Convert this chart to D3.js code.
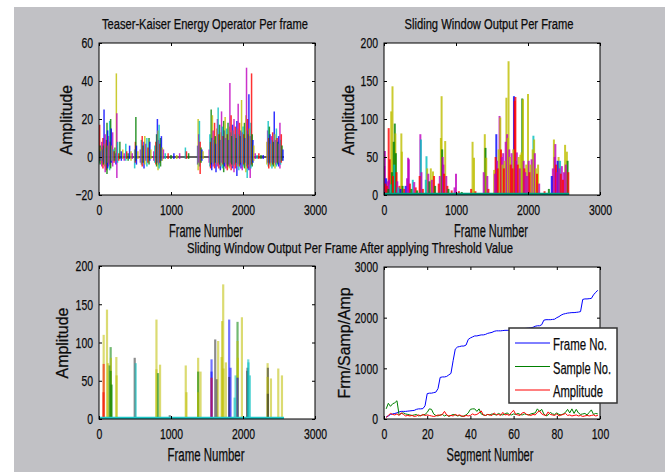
<!DOCTYPE html>
<html>
<head>
<meta charset="utf-8">
<script src="https://cdn.jsdelivr.net/npm/d3@7"></script>
<style>
  body { margin: 0; background: #ffffff; }
  text { font-family: "Liberation Sans", Arial, sans-serif; fill: #0a0a0a; stroke: #0a0a0a; stroke-width: 0.25px; }
</style>
</head>
<body>
<script>
// MATLAB default line colour order: b, g, r, c, m, y, k
var palette = ["#0000ff", "#008000", "#ff0000", "#00bfbf", "#bf00bf", "#bfbf00", "#303030"];

// ---- subplot 1: Teager-Kaiser energy per frame (spike top / bottom) ----
var tkFrame = [5, 9, 15, 22, 30, 38, 45, 55, 62, 70, 78, 86, 95, 104, 111, 120, 128, 136, 148, 155, 162, 170, 180, 190, 198, 210, 222, 235, 241, 248, 258,
    275, 290, 310, 330, 350, 372, 385, 405, 425, 445, 462,
    495, 505, 512, 520, 540, 575, 588, 600, 612, 625, 636, 650, 665, 680, 695, 706, 720,
    760, 775, 790, 800, 811, 820, 828, 835, 845, 855, 867, 880, 895,
    920, 960, 1000, 1040, 1080, 1120, 1200, 1215, 1245,
    1370, 1377, 1385, 1395, 1405, 1418, 1430, 1445,
    1530, 1540, 1550, 1558, 1566, 1575, 1585, 1595, 1605, 1615, 1625, 1635, 1645, 1655, 1665, 1675, 1685, 1695, 1702, 1712, 1722, 1732, 1742, 1752, 1762,
    1772, 1782, 1792, 1802, 1810, 1818, 1826, 1835, 1845, 1855, 1865, 1875, 1885, 1895, 1905, 1915, 1925, 1933, 1942, 1952, 1962, 1972, 1980, 1990,
    2000, 2010, 2020, 2030, 2040, 2049, 2058, 2066, 2074, 2082, 2090, 2100, 2110, 2119, 2128, 2138, 2150,
    2170, 2195, 2220, 2250, 2280,
    2332, 2342, 2350, 2358, 2366, 2375, 2384, 2393, 2402, 2412, 2422, 2434, 2444, 2454, 2464, 2474, 2484, 2495, 2505, 2513, 2522, 2532, 2542, 2555];
var tkHigh = [4, 17, 6, 3, 5, 8, 4, 10, 6, 25, 7, 12, 5, 9, 18, 14, 6, 11, 19, 8, 20, 15, 6, 13, 4, 3, 5, 2, 44, 23, 8,
    2, 8, 3, 4, 2, 7, 3, 2, 6, 3, 2,
    4, 8, 21, 6, 3, 4, 9, 11, 6, 8, 11, 7, 10, 5, 10, 8, 4,
    3, 6, 8, 12, 20, 14, 9, 17, 7, 10, 11, 5, 4,
    2, 2, 1, 2, 1, 2, 5, 3, 2,
    6, 20, 12, 19, 8, 5, 4, 3,
    4, 12, 8, 25, 10, 22, 14, 9, 18, 11, 7, 15, 20, 26, 12, 17, 9, 13, 24, 16, 11, 19, 14, 21, 10,
    15, 12, 18, 9, 16, 39, 13, 22, 11, 17, 14, 20, 12, 16, 10, 19, 15, 28, 12, 18, 11, 14, 30, 13,
    16, 12, 18, 10, 22, 47, 14, 20, 12, 33, 15, 11, 18, 44, 12, 9, 6,
    2, 1, 2, 1, 1,
    8, 14, 19, 10, 16, 12, 7, 11, 9, 13, 8, 24, 12, 9, 15, 10, 8, 11, 7, 18, 9, 12, 6, 4];
var tkLow = [-3, -2, -4, -2, -3, -5, -2, -6, -4, -3, -5, -8, -4, -7, -9, -6, -3, -5, -7, -4, -6, -3, -2, -5, -2, -3, -2, -4, -2, -11, -3,
    -2, -1, -2, -1, -2, -2, -1, -2, -1, -2, -1,
    -6, -3, -2, -4, -1, -3, -4, -5, -3, -6, -4, -2, -5, -3, -4, -2, -1,
    -2, -3, -4, -5, -3, -7, -4, -6, -3, -5, -2, -2, -1,
    -1, -1, -1, -1, -1, -1, -1, -1, -1,
    -4, -7, -3, -5, -9, -3, -2, -1,
    -3, -5, -6, -4, -7, -3, -5, -4, -6, -3, -8, -4, -5, -3, -6, -4, -7, -5, -3, -6, -4, -8, -5, -3, -6,
    -4, -7, -5, -4, -6, -5, -3, -7, -4, -6, -5, -8, -4, -6, -3, -10, -5, -4, -7, -5, -4, -6, -3, -7,
    -5, -4, -6, -3, -8, -5, -11, -6, -4, -7, -5, -11, -6, -4, -5, -3, -2,
    -1, -1, -1, -1, -1,
    -4, -3, -5, -6, -3, -4, -5, -3, -6, -4, -5, -3, -6, -4, -5, -3, -4, -5, -3, -6, -4, -3, -2, -2];
var tkEnd = 2570;

// ---- subplot 2: sliding window output per frame ----
var swFrame = [5, 12, 20, 30, 40, 50, 60, 65, 70, 80, 90, 100, 110, 118, 125, 135, 142, 150, 158, 165, 175, 185, 200, 215, 230, 241, 248, 258,
    280, 300, 320, 335, 345, 360, 380, 400, 420, 440, 460,
    495, 505, 512, 520, 540, 580, 590, 600, 615, 630, 650, 665, 680, 695, 710,
    760, 775, 790, 800, 808, 815, 825, 835, 850, 865, 880, 895,
    940, 980, 1000, 1040, 1080, 1210, 1230, 1250, 1270,
    1385, 1400, 1410, 1420, 1435, 1450,
    1530, 1540, 1550, 1560, 1570, 1580, 1592, 1605, 1615, 1625, 1635, 1645, 1655, 1665, 1675, 1690, 1700, 1710, 1720, 1730, 1740, 1750, 1760,
    1772, 1785, 1795, 1805, 1815, 1825, 1835, 1845, 1858, 1870, 1885, 1895, 1910, 1920, 1930, 1940, 1950, 1962, 1975, 1985,
    2000, 2010, 2020, 2035, 2050, 2065, 2075, 2085, 2095, 2110, 2125, 2140, 2155, 2230, 2290,
    2330, 2345, 2360, 2370, 2380, 2390, 2400, 2412, 2425, 2435, 2445, 2455, 2470, 2485, 2500, 2515, 2525, 2540, 2550, 2560];
var swValue = [38, 58, 15, 22, 12, 18, 8, 88, 20, 47, 14, 110, 30, 143, 25, 70, 40, 94, 81, 55, 30, 18, 10, 12, 8, 81, 57, 12,
    8, 12, 22, 49, 47, 15, 8, 20, 17, 10, 6,
    25, 80, 73, 30, 8, 20, 51, 35, 28, 18, 35, 20, 31, 25, 12,
    15, 25, 75, 130, 60, 50, 40, 28, 71, 25, 12, 8,
    6, 10, 28, 5, 4, 8, 70, 49, 5,
    30, 80, 62, 49, 25, 8,
    33, 28, 50, 80, 45, 35, 60, 104, 102, 60, 50, 40, 55, 35, 45, 70, 128, 80, 75, 176, 60, 50, 40,
    55, 35, 60, 130, 124, 129, 45, 56, 40, 50, 35, 53, 56, 127, 126, 45, 35, 30, 40, 25,
    133, 45, 30, 40, 47, 60, 78, 73, 55, 35, 28, 40, 15, 5, 8,
    25, 35, 73, 50, 67, 40, 30, 45, 50, 35, 45, 28, 38, 20, 30, 66, 40, 57, 45, 30];
var swSeries = [4, 4, 2, 0, 2, 4, 1, 2, 4, 2, 3, 5, 1, 5, 2, 1, 3, 1, 5, 1, 2, 4, 3, 2, 0, 5, 5, 1,
    2, 0, 4, 4, 4, 2, 1, 3, 4, 2, 1,
    2, 4, 3, 4, 2, 3, 3, 5, 4, 1, 5, 4, 5, 2, 1,
    2, 4, 5, 5, 1, 4, 4, 2, 5, 4, 2, 1,
    2, 4, 4, 2, 1, 2, 5, 5, 2,
    4, 5, 1, 5, 4, 2,
    5, 4, 2, 0, 4, 2, 5, 4, 5, 2, 4, 5, 4, 2, 5, 4, 5, 4, 5, 5, 4, 5, 2,
    4, 2, 5, 0, 2, 2, 4, 4, 2, 5, 4, 5, 5, 1, 5, 4, 2, 4, 5, 4,
    5, 4, 2, 5, 4, 5, 3, 5, 4, 5, 2, 5, 4, 2, 1,
    0, 4, 5, 4, 4, 2, 4, 0, 5, 4, 3, 2, 4, 2, 4, 5, 4, 5, 1, 2];
var swEnd = 2570;

// ---- subplot 3: after applying threshold ----
var thFrame = [65, 65, 62, 111, 125, 148, 162, 165, 162, 176, 241, 245, 496, 510, 798, 798, 820, 848, 983, 1205, 1215, 1377, 1377, 1377, 1410,
    1563, 1563, 1563, 1614, 1637, 1655, 1702, 1710, 1725, 1730, 1762, 1808, 1808, 1827, 1883, 1897, 1924, 1924, 1929, 1924, 1985,
    2059, 2062, 2073, 2076, 2096, 2342, 2346, 2342, 2346, 2388, 2490, 2541];
var thValue = [110, 72, 35, 143, 73, 70, 94, 80, 63, 45, 81, 57, 80, 73, 130, 65, 60, 71, 5, 70, 35, 80, 62, 35, 62,
    78, 62, 54, 104, 52, 102, 81, 128, 176, 66, 74, 130, 55, 67, 28, 57, 127, 102, 80, 54, 133,
    63, 67, 78, 74, 57, 73, 67, 55, 33, 53, 66, 57];
var thSeries = [5, 2, 2, 5, 5, 1, 1, 5, 1, 1, 5, 5, 6, 3, 5, 5, 1, 5, 6, 5, 5, 5, 1, 5, 5,
    0, 0, 2, 6, 6, 5, 5, 5, 5, 5, 5, 0, 6, 0, 3, 3, 1, 5, 5, 0, 5,
    6, 6, 3, 3, 3, 5, 6, 5, 6, 5, 5, 5];
var thEnd = 2570;

// ---- subplot 4: frame / sample / amplitude per segment ----
var segFrameNo = [40, 60, 90, 100, 110, 120, 140, 150, 150, 150, 155, 160, 165, 170, 190, 200, 200, 205, 260, 500,
    510, 510, 520, 530, 600, 820, 830, 830, 840, 870, 900, 1150, 1380, 1420, 1430, 1440, 1440, 1460, 1570, 1600,
    1620, 1640, 1640, 1650, 1660, 1660, 1670, 1690, 1700, 1710, 1730, 1740, 1740, 1740, 1745, 1750, 1750, 1750, 1755, 1760,
    1765, 1770, 1775, 1780, 1785, 1790, 1795, 1800, 1810, 1830, 1840, 1840, 1860, 1950, 1960, 1960, 1960, 1965, 1970, 2000,
    2020, 2050, 2070, 2080, 2090, 2095, 2100, 2100, 2105, 2110, 2120, 2360, 2370, 2370, 2375, 2380, 2450, 2500, 2540];
var segSampleNo = [200, 310, 250, 300, 320, 360, 80, 110, 120, 100, 90, 80, 70, 80, 90, 60, 70, 80, 90, 130,
    200, 190, 100, 70, 60, 80, 90, 60, 80, 50, 70, 90, 80, 60, 70, 50, 60, 80, 120, 190,
    200, 200, 150, 200, 100, 80, 70, 90, 80, 100, 90, 80, 110, 90, 80, 100, 120, 90, 80, 100,
    90, 110, 90, 80, 100, 90, 80, 100, 110, 120, 200, 150, 190, 100, 60, 80, 130, 100, 90, 120,
    90, 80, 100, 130, 190, 120, 200, 110, 190, 120, 90, 100, 110, 80, 130, 180, 90, 110, 100];
var segAmplitude = [30, 70, 110, 90, 80, 100, 70, 120, 90, 60, 70, 60, 70, 50, 60, 80, 60, 90, 70, 80,
    70, 60, 50, 60, 80, 70, 90, 150, 80, 60, 70, 60, 90, 70, 80, 60, 50, 70, 60, 70,
    100, 80, 90, 120, 160, 80, 70, 90, 80, 70, 120, 80, 90, 70, 130, 80, 90, 70, 130, 170,
    90, 80, 70, 120, 130, 90, 80, 70, 90, 80, 130, 160, 100, 80, 70, 140, 90, 80, 70, 100,
    60, 80, 90, 110, 70, 80, 60, 70, 80, 60, 70, 50, 60, 70, 60, 70, 80, 60, 70];
var legendNames = ["Frame No.", "Sample No.", "Amplitude"];
var legendColors = ["#0000ff", "#008000", "#ff0000"];

var frameTicks = [0, 1000, 2000, 3000];
var segTicks = [0, 20, 40, 60, 80, 100];

var W = 665, H = 472;
var svg = d3.select("body").append("svg").attr("width", W).attr("height", H);

// figure background (grey panel like a MATLAB figure window)
svg.append("rect").attr("x", 14).attr("y", 7).attr("width", W - 14).attr("height", H - 7).attr("fill", "#c1c1c5");

// tick labels in the picture are tall and narrow (Arial Narrow look)
function squeezeTick(sel) {
    sel.each(function() {
        var s = this.textContent;
        if (!s) return;
        var len = 0;
        for (var k = 0; k < s.length; k++) len += (s[k] === "-" ? 3.6 : 5.8);
        d3.select(this).attr("textLength", len).attr("lengthAdjust", "spacingAndGlyphs");
    });
}

var clipId = 0;

function makeAxes(box, xDomain, yDomain, xTicks, yTicks) {
    var x = d3.scaleLinear().domain(xDomain).range([box.left, box.right]);
    var y = d3.scaleLinear().domain(yDomain).range([box.bottom, box.top]);

    var g = svg.append("g");
    g.append("rect")
        .attr("x", box.left).attr("y", box.top)
        .attr("width", box.right - box.left).attr("height", box.bottom - box.top)
        .attr("fill", "#ffffff");

    clipId++;
    g.append("clipPath").attr("id", "clip" + clipId)
        .append("rect")
        .attr("x", box.left).attr("y", box.top)
        .attr("width", box.right - box.left).attr("height", box.bottom - box.top);
    var plot = g.append("g").attr("clip-path", "url(#clip" + clipId + ")");

    var axes = svg.append("g");
    function styleAxis(sel, withText) {
        sel.select(".domain").remove();
        sel.selectAll(".tick line").attr("stroke", "#000");
        if (withText) {
            sel.selectAll(".tick text").style("font-size", "15.5px").attr("fill", "#0a0a0a").call(squeezeTick);
        }
    }
    axes.append("g").attr("transform", "translate(0," + box.bottom + ")")
        .call(d3.axisBottom(x).tickValues(xTicks).tickSize(-3).tickPadding(9).tickFormat(d3.format("d")))
        .call(styleAxis, true);
    axes.append("g").attr("transform", "translate(0," + box.top + ")")
        .call(d3.axisTop(x).tickValues(xTicks).tickSize(-3).tickFormat(""))
        .call(styleAxis, false);
    axes.append("g").attr("transform", "translate(" + box.left + ",0)")
        .call(d3.axisLeft(y).tickValues(yTicks).tickSize(-3).tickPadding(6).tickFormat(d3.format("d")))
        .call(styleAxis, true);
    axes.append("g").attr("transform", "translate(" + box.right + ",0)")
        .call(d3.axisRight(y).tickValues(yTicks).tickSize(-3).tickFormat(""))
        .call(styleAxis, false);
    axes.selectAll("g").attr("font-family", null);

    return { x: x, y: y, plot: plot, axes: axes, box: box };
}

function drawFrame(ax) {
    var b = ax.box;
    ax.axes.append("rect")
        .attr("x", b.left).attr("y", b.top)
        .attr("width", b.right - b.left).attr("height", b.bottom - b.top)
        .attr("fill", "none").attr("stroke", "#000").attr("stroke-width", 1);
}

function addText(str, x, y, size, rotate, anchor, len) {
    var t = svg.append("text")
        .attr("x", x).attr("y", y)
        .attr("text-anchor", anchor || "middle")
        .style("font-size", size + "px")
        .text(str);
    if (rotate) t.attr("transform", "rotate(-90," + x + "," + y + ")");
    if (len) t.attr("textLength", len).attr("lengthAdjust", "spacingAndGlyphs");
    return t;
}

// ---------------- subplot 1 ----------------
var ax1 = makeAxes({ left: 99, right: 315, top: 43, bottom: 195 }, [0, 3000], [-20, 60], frameTicks, [-20, 0, 20, 40, 60]);
ax1.plot.append("line")
    .attr("x1", ax1.x(0)).attr("x2", ax1.x(tkEnd))
    .attr("y1", ax1.y(0)).attr("y2", ax1.y(0))
    .attr("stroke", "#303030").attr("stroke-width", 1.5);
ax1.plot.selectAll("line.spike")
    .data(tkFrame)
    .enter().append("line")
    .attr("class", "spike")
    .attr("x1", function(d) { return ax1.x(d); })
    .attr("x2", function(d) { return ax1.x(d); })
    .attr("y1", function(d, i) { return ax1.y(tkLow[i]); })
    .attr("y2", function(d, i) { return ax1.y(tkHigh[i]); })
    .attr("stroke", function(d, i) { return palette[(i * 5 + 3) % 6]; })
    .attr("stroke-width", 1.5)
    .attr("opacity", 0.8);
drawFrame(ax1);

// ---------------- subplot 2 ----------------
var ax2 = makeAxes({ left: 384, right: 600, top: 43, bottom: 195 }, [0, 3000], [0, 200], frameTicks, [0, 50, 100, 150, 200]);
var swOrder = d3.range(swFrame.length).sort(function(a, b) { return swValue[b] - swValue[a]; });
ax2.plot.selectAll("line.bar")
    .data(swOrder)
    .enter().append("line")
    .attr("class", "bar")
    .attr("x1", function(i) { return ax2.x(swFrame[i]); })
    .attr("x2", function(i) { return ax2.x(swFrame[i]); })
    .attr("y1", ax2.y(0))
    .attr("y2", function(i) { return ax2.y(swValue[i]); })
    .attr("stroke", function(i) { return palette[swSeries[i]]; })
    .attr("stroke-width", 2)
    .attr("opacity", 0.8);
ax2.plot.append("line")
    .attr("x1", ax2.x(0)).attr("x2", ax2.x(swEnd))
    .attr("y1", ax2.y(0) - 1).attr("y2", ax2.y(0) - 1)
    .attr("stroke", "#00a080").attr("stroke-width", 2.5);
drawFrame(ax2);

// ---------------- subplot 3 ----------------
var ax3 = makeAxes({ left: 99, right: 315, top: 266, bottom: 419 }, [0, 3000], [0, 200], frameTicks, [0, 50, 100, 150, 200]);
ax3.plot.selectAll("line.bar")
    .data(thFrame)
    .enter().append("line")
    .attr("class", "bar")
    .attr("x1", function(d) { return ax3.x(d); })
    .attr("x2", function(d) { return ax3.x(d); })
    .attr("y1", ax3.y(0))
    .attr("y2", function(d, i) { return ax3.y(thValue[i]); })
    .attr("stroke", function(d, i) { return palette[thSeries[i]]; })
    .attr("stroke-width", 2.2)
    .attr("opacity", 0.55);
ax3.plot.append("line")
    .attr("x1", ax3.x(0)).attr("x2", ax3.x(thEnd))
    .attr("y1", ax3.y(0) - 1).attr("y2", ax3.y(0) - 1)
    .attr("stroke", "#20c8c8").attr("stroke-width", 2.5);
drawFrame(ax3);

// ---------------- subplot 4 ----------------
var ax4 = makeAxes({ left: 384, right: 600, top: 267, bottom: 419 }, [0, 100], [0, 3000], segTicks, [0, 1000, 2000, 3000]);
var segLine = d3.line()
    .x(function(d, i) { return ax4.x(i + 1); })
    .y(function(d) { return ax4.y(d); });
[segFrameNo, segSampleNo, segAmplitude].forEach(function(series, k) {
    ax4.plot.append("path")
        .datum(series)
        .attr("d", segLine)
        .attr("fill", "none")
        .attr("stroke", legendColors[k])
        .attr("stroke-width", 1);
});
drawFrame(ax4);

// legend
var legendWidths = [54, 58, 50];
var lg = svg.append("g");
lg.append("rect")
    .attr("x", 509).attr("y", 328).attr("width", 108).attr("height", 75)
    .attr("fill", "#ffffff").attr("stroke", "#333").attr("stroke-width", 1.5);
legendNames.forEach(function(name, k) {
    var yy = 343 + k * 23.5;
    lg.append("line")
        .attr("x1", 515).attr("x2", 550).attr("y1", yy).attr("y2", yy)
        .attr("stroke", legendColors[k]).attr("stroke-width", 1);
    lg.append("text")
        .attr("x", 553).attr("y", yy + 7)
        .style("font-size", "17px")
        .attr("textLength", legendWidths[k]).attr("lengthAdjust", "spacingAndGlyphs")
        .text(name);
});

// titles and labels
addText("Teaser-Kaiser Energy Operator Per frame", 205, 29, 14, false, "middle", 206);
addText("Sliding Window Output Per Frame", 489, 29, 14, false, "middle", 169);
addText("Frame Number", 206, 237, 18, false, "middle", 74);
addText("Frame Number", 491, 237, 18, false, "middle", 74);
addText("Sliding Window Output Per Frame After applying Threshold Value", 350, 253, 14, false, "middle", 326);
addText("Frame  Number", 206, 461, 18, false, "middle", 77);
addText("Segment Number", 490, 461, 18, false, "middle", 87);
addText("Amplitude", 72, 120, 16, true, "middle", 70);
addText("Amplitude", 354, 120, 16, true, "middle", 70);
addText("Amplitude", 68, 343, 16, true, "middle", 71);
addText("Frm/Samp/Amp", 350, 343, 16, true, "middle", 111);
</script>
</body>
</html>
